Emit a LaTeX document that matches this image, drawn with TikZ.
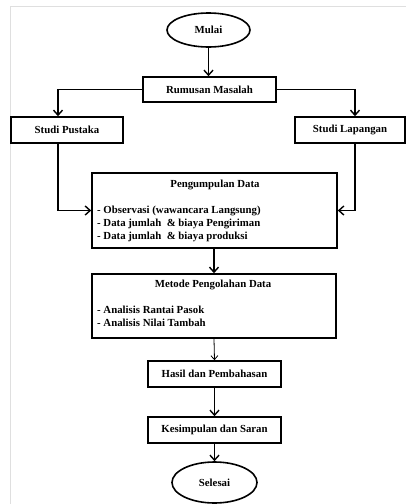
\documentclass[tikz,border=0pt]{standalone}
\usepackage{fontspec}
\setmainfont{Liberation Serif}
\newfontfamily\bfont{Liberation Serif Bold}
\usetikzlibrary{arrows.meta,shapes.geometric}
\begin{document}
\begin{tikzpicture}[x=1pt,y=-1pt,
  every node/.style={font=\bfont\fontsize{10.8}{13.2}\selectfont},
  box/.style={draw,line width=1.6pt,rectangle,inner sep=0pt},
  oval/.style={draw,line width=1.6pt,ellipse,inner sep=0pt},
  txt/.style={inner sep=0pt},
  arr/.style={line width=1.6pt,-{Straight Barb[length=5pt,width=9pt,line width=1.4pt]}},
  thinarr/.style={line width=0.8pt,-{Straight Barb[length=4pt,width=7pt,line width=0.8pt]}}]
\useasboundingbox (0,0) rectangle (406,504);
\draw[gray!25,line width=0.6pt] (10,504) -- (10,6.5) -- (406,6.5);
\node[oval,minimum width=83pt,minimum height=34pt] (mulai) at (208.5,30) {Mulai};
\node[box,minimum width=133pt,minimum height=25pt] (rumusan) at (209.5,89.5) {Rumusan Masalah};
\node[box,minimum width=112pt,minimum height=26pt] (pustaka) at (67,130) {Studi Pustaka};
\node[box,minimum width=110pt,minimum height=26pt] (lapangan) at (350,130) {Studi Lapangan};
\node[box,minimum width=245pt,minimum height=75pt] (kumpul) at (214.5,210.5) {};
\node[txt] (kumpult) at (215,185) {Pengumpulan Data};
\node[txt,anchor=west,align=left] (kumpull) at (97,224) {- Observasi (wawancara Langsung)\\- Data jumlah \ \& biaya Pengiriman\\- Data jumlah \ \& biaya produksi};
\node[box,minimum width=244pt,minimum height=64pt] (metode) at (214,306) {};
\node[txt] (metodet) at (213,285) {Metode Pengolahan Data};
\node[txt,anchor=west,align=left] (metodel) at (97,316.5) {- Analisis Rantai Pasok\\- Analisis Nilai Tambah};
\node[box,minimum width=133pt,minimum height=26pt] (hasil) at (214.5,374) {Hasil dan Pembahasan};
\node[box,minimum width=133pt,minimum height=26pt] (simpul) at (214.5,430) {Kesimpulan dan Saran};
\node[oval,minimum width=85pt,minimum height=41pt] (selesai) at (214.5,482.5) {Selesai};
\draw[arr] (mulai.south) -- (mulai.south |- rumusan.north);
\draw[arr] (rumusan.west) -| ([xshift=-9pt]pustaka.north);
\draw[arr] (rumusan.east) -| ([xshift=5pt]lapangan.north);
\draw[arr] ([xshift=-9pt]pustaka.south) |- (kumpul.west);
\draw[arr] ([xshift=5pt]lapangan.south) |- (kumpul.east);
\draw[arr] (kumpul.south -| metode.north) -- (metode.north);
\draw[thinarr] (metode.south) -- (hasil.north);
\draw[arr] (hasil.south) -- (simpul.north);
\draw[arr] (simpul.south) -- (selesai.north);
\end{tikzpicture}
\end{document}
